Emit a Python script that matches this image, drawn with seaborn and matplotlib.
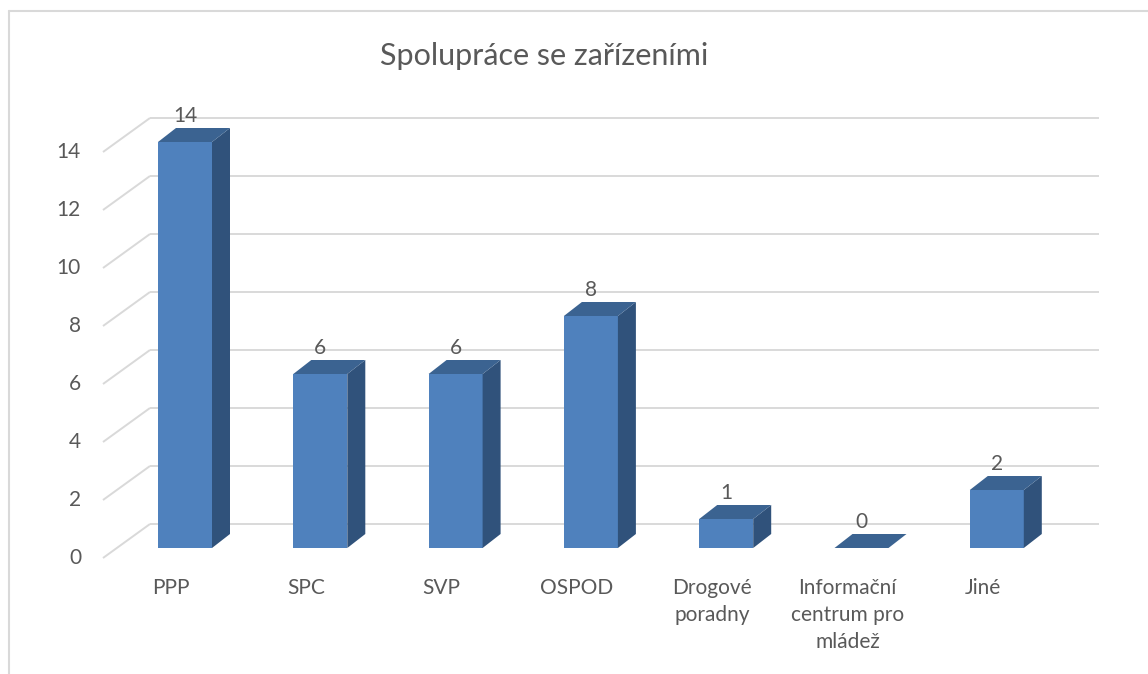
import matplotlib
matplotlib.use("Agg")
import matplotlib.pyplot as plt
from matplotlib.patches import Polygon
from matplotlib.lines import Line2D
import seaborn as sns
import pandas as pd

# ---- data ----
categories = ["PPP", "SPC", "SVP", "OSPOD", "Drogové\nporadny",
              "Informační\ncentrum pro\nmládež", "Jiné"]
values = [14, 6, 6, 8, 1, 0, 2]
y_ticks = [0, 2, 4, 6, 8, 10, 12, 14]
title = "Spolupráce se zařízeními"

# ---- styling / layout (pixel geometry of the pseudo-3D look) ----
W, H = 1148, 674
PX_X0, PX_STEP = 185.0, 135.3      # pixel x of first bar centre, category spacing
PX_Y0, PX_PER = 548.0, 29.0        # pixel y of value 0 (front plane), pixels per unit
FRONT = "#4F81BD"
SIDE = "#30527B"
TOP = "#3B6391"
GRID = "#D9D9D9"
TXT = "#595959"

sns.set_style("white")
plt.rcParams["font.family"] = ["Lato", "DejaVu Sans"]

fig = plt.figure(figsize=(W / 100, H / 100), dpi=100)
ax = fig.add_axes([0, 0, 1, 1])

df = pd.DataFrame({"cat": categories, "val": values})
sns.barplot(data=df, x="cat", y="val", color=FRONT, saturation=1,
            width=54 / PX_STEP, ax=ax, zorder=3, linewidth=0)

# map pixels to data coordinates
ax.set_xlim((0 - PX_X0) / PX_STEP, (W - PX_X0) / PX_STEP)
ax.set_ylim((PX_Y0 - H) / PX_PER, PX_Y0 / PX_PER)
ax.axis("off")

def dx(px):
    return px / PX_STEP

def dy(px):
    return px / PX_PER

# back wall gridlines + floor diagonals + y tick labels
back_left = (150 - PX_X0) / PX_STEP
back_right = (1099 - PX_X0) / PX_STEP
front_left = (103 - PX_X0) / PX_STEP
for v in y_ticks:
    yb = v + dy(PX_Y0 - 524)
    yf = v - dy(558 - PX_Y0)
    ax.plot([back_left, back_right], [yb, yb], color=GRID, lw=1.4, zorder=1,
            solid_capstyle="butt")
    ax.plot([front_left, back_left], [yf, yb], color=GRID, lw=1.4, zorder=1,
            solid_capstyle="butt")
    ax.text((81 - PX_X0) / PX_STEP, yf, str(v), ha="right", va="center",
            fontsize=15, color=TXT)

# 3D faces derived from the seaborn bars
ddx, ddy = dx(18), dy(14)
for p, v in zip(ax.patches, values):
    x0, w, h = p.get_x(), p.get_width(), p.get_height()
    if h > 0:
        side = Polygon([(x0 + w, 0), (x0 + w + ddx, ddy), (x0 + w + ddx, h + ddy),
                        (x0 + w, h)], closed=True, facecolor=SIDE, edgecolor="none",
                       zorder=3)
        ax.add_patch(side)
    top = Polygon([(x0, h), (x0 + ddx, h + ddy), (x0 + w + ddx, h + ddy),
                   (x0 + w, h)], closed=True, facecolor=TOP, edgecolor="none",
                  zorder=3)
    ax.add_patch(top)
    ax.text(x0 + w / 2, h + ddy + dy(6), str(v), ha="center", va="baseline",
            fontsize=15, color=TXT, zorder=4)

# category labels
for i, c in enumerate(categories):
    ax.text(i - dx(14), -dy(578 - PX_Y0), c, ha="center", va="top",
            fontsize=15, color=TXT, linespacing=1.45)

# title
ax.text((544 - PX_X0) / PX_STEP, (PX_Y0 - 56) / PX_PER, title, ha="center",
        va="center", fontsize=22, color=TXT)

# chart border (light grey frame)
fig.add_artist(Line2D([9 / W, 1], [1 - 11 / H, 1 - 11 / H], color=GRID, lw=1.5,
                      transform=fig.transFigure))
fig.add_artist(Line2D([9 / W, 9 / W], [0, 1 - 11 / H], color=GRID, lw=1.5,
                      transform=fig.transFigure))

fig.savefig("out.png", dpi=100)
